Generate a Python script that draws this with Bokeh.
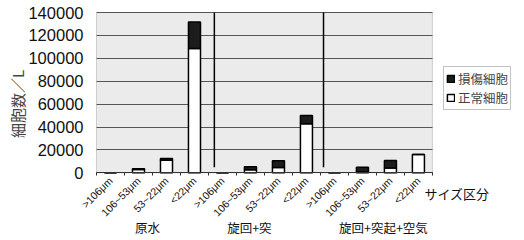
from bokeh.plotting import figure
from bokeh.models import (ColumnDataSource, FixedTicker, Legend, LegendItem, Label,
                          Range1d, NumeralTickFormatter, BoxAnnotation, Grid)
from bokeh.embed import file_html
from bokeh.resources import INLINE

# ---- data ----
size_labels = [">106μm", "106~53μm", "53~22μm", "<22μm"]
groups = ["原水", "旋回+突", "旋回+突起+空気"]
categories = size_labels * 3
normal_cells = [0, 2800, 11000, 108500, 0, 2600, 4600, 42900, 0, 1000, 4300, 16000]
damaged_cells = [0, 700, 1500, 23300, 0, 2600, 5900, 7200, 0, 3900, 6400, 0]
y_ticks = [0, 20000, 40000, 60000, 80000, 100000, 120000, 140000]
series_names = ["損傷細胞", "正常細胞"]
y_title = "細胞数／L"
x_title = "サイズ区分"

JP = "Noto Sans CJK JP"
LAT = "Liberation Sans"

n = len(categories)
xs = list(range(n))
src = ColumnDataSource(dict(x=xs, normal=normal_cells, damaged=damaged_cells,
                            total=[a + b for a, b in zip(normal_cells, damaged_cells)]))

y_top = 140000
p = figure(width=524, height=240, output_backend="svg", toolbar_location=None,
           x_range=Range1d(-3.93, 14.79), y_range=Range1d(-59130, 150490),
           min_border_left=0, min_border_right=0, min_border_top=0, min_border_bottom=0)

p.border_fill_color = "white"
p.background_fill_color = "white"
p.outline_line_color = None

# plot area (chart background)
p.add_layout(BoxAnnotation(left=-0.5, right=n - 0.5, bottom=0, top=y_top,
                           fill_color="#ebebeb", fill_alpha=1.0,
                           line_color="#777777", line_width=1, level="image"))

r_normal = p.vbar(x="x", bottom=0, top="normal", width=0.43, source=src,
                  fill_color="white", line_color="black", line_width=1.5)
r_damaged = p.vbar(x="x", bottom="normal", top="total", width=0.43, source=src,
                   fill_color="#1c1c1c", line_color="black", line_width=1.5)

# group separators
p.segment(x0=[3.71, 7.61], y0=[4900, 4900], x1=[3.71, 7.61], y1=[y_top, y_top],
          line_color="black", line_width=1.5)

# y axis at the left edge of the chart area
p.yaxis.fixed_location = -0.5
p.yaxis.ticker = FixedTicker(ticks=y_ticks)
p.yaxis.bounds = (-20000, y_top)
p.yaxis.formatter = NumeralTickFormatter(format="0")
p.yaxis.major_label_text_font = LAT
p.yaxis.major_label_text_font_size = "16.5px"
p.yaxis.major_label_text_color = "#111111"
p.yaxis.major_label_standoff = 13
p.yaxis.major_tick_out = 0
p.yaxis.major_tick_in = 0
p.yaxis.minor_tick_out = 0
p.yaxis.minor_tick_in = 0
p.yaxis.axis_line_color = None
p.yaxis.axis_label = y_title
p.yaxis.axis_label_text_font = JP
p.yaxis.axis_label_text_font_style = "normal"
p.yaxis.axis_label_text_font_size = "15px"
p.yaxis.axis_label_standoff = -3

# horizontal grid only across the chart area
p.xgrid.grid_line_color = None
p.ygrid.ticker = FixedTicker(ticks=y_ticks)
p.ygrid.grid_line_color = "#555555"
p.ygrid.grid_line_width = 1
if "cross_bounds" in Grid.properties():
    p.ygrid.cross_bounds = (-0.5, n - 0.5)

# x axis at y = 0
p.xaxis.fixed_location = 0
p.xaxis.bounds = (-0.5, n - 0.5)
p.xaxis.ticker = FixedTicker(ticks=xs, minor_ticks=[i + 0.5 for i in range(-1, n)])
p.xaxis.major_label_overrides = {i: lab for i, lab in enumerate(categories)}
p.xaxis.major_label_orientation = 0.785
p.xaxis.major_label_text_font = LAT
p.xaxis.major_label_text_font_size = "10.5px"
p.xaxis.major_label_text_color = "#111111"
p.xaxis.major_label_standoff = 3
p.xaxis.major_tick_out = 0
p.xaxis.major_tick_in = 0
p.xaxis.minor_tick_out = 3
p.xaxis.minor_tick_in = 0
p.xaxis.minor_tick_line_color = "#333333"
p.xaxis.axis_line_color = "#333333"

# group labels and size-class title
for gx, g in zip([1.32, 4.96, 9.75], groups):
    p.add_layout(Label(x=gx, y=-47800, text=g, text_font=JP, text_font_size="12.5px",
                       text_align="center", text_baseline="middle", text_color="#111111"))
p.add_layout(Label(x=12.375, y=-18100, text=x_title, text_font=JP, text_font_size="13px",
                   text_align="center", text_baseline="middle", text_color="#111111"))

legend = Legend(items=[LegendItem(label=series_names[0], renderers=[r_damaged]),
                       LegendItem(label=series_names[1], renderers=[r_normal])],
                location=(443, 130), label_text_font=JP, label_text_font_size="12.5px",
                glyph_width=9, glyph_height=9, label_height=15, spacing=0,
                padding=2, margin=0, label_standoff=3,
                border_line_color="#888888", background_fill_color="white")
p.add_layout(legend, "center")

open("out.html", "w").write(file_html(p, INLINE))
